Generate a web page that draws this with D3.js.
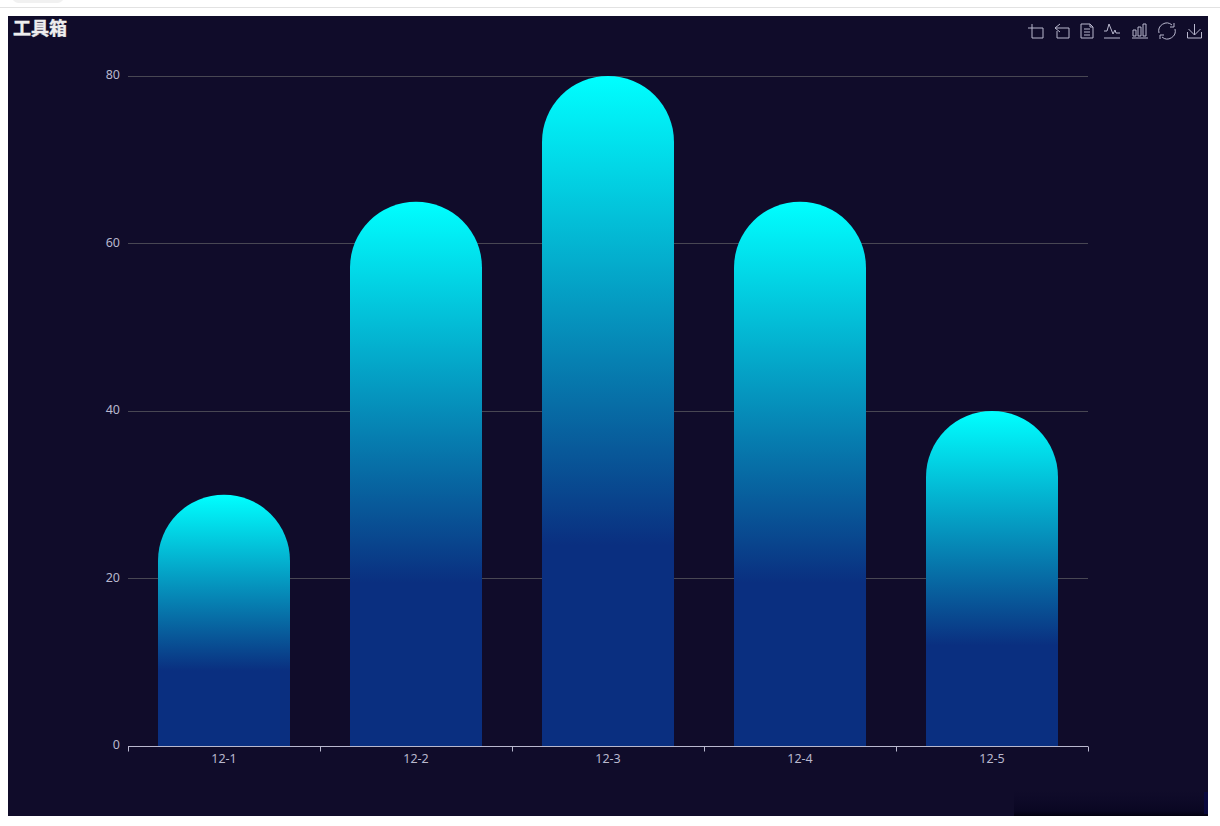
<!DOCTYPE html>
<html>
<head>
<meta charset="utf-8">
<script src="https://cdn.jsdelivr.net/npm/d3@7"></script>
<style>
html, body { margin: 0; padding: 0; background: #fff; overflow: hidden; }
svg { display: block; }
text { font-family: "Noto Sans", "Open Sans", sans-serif; }
</style>
</head>
<body>
<div id="chart"></div>
<script>
var categories = ["12-1", "12-2", "12-3", "12-4", "12-5"];
var values = [30, 65, 80, 65, 40];
var yTicks = [0, 20, 40, 60, 80];
var title = "工具箱";

var svg = d3.select("#chart").append("svg").attr("width", 1220).attr("height", 826);
var defs = svg.append("defs");

// page furniture above the chart
svg.append("rect").attr("x", 12).attr("y", -10).attr("width", 52).attr("height", 13).attr("rx", 6.5).attr("fill", "#f1f1f1");
svg.append("rect").attr("x", 0).attr("y", 7).attr("width", 1220).attr("height", 1).attr("fill", "#e2e2e2");

// chart background
svg.append("rect").attr("x", 8).attr("y", 16).attr("width", 1200).attr("height", 800).attr("fill", "#100c2a");

// dark smudge bottom right
var smudge = defs.append("linearGradient").attr("id", "smudge").attr("x1", 0).attr("y1", 0).attr("x2", 0).attr("y2", 1);
smudge.append("stop").attr("offset", 0).attr("stop-color", "#0a0626").attr("stop-opacity", 0);
smudge.append("stop").attr("offset", 0.8).attr("stop-color", "#07041f").attr("stop-opacity", 0.7);
smudge.append("stop").attr("offset", 1).attr("stop-color", "#020010");
svg.append("rect").attr("x", 1014).attr("y", 790).attr("width", 194).attr("height", 26).attr("fill", "url(#smudge)");
svg.append("rect").attr("x", 1204).attr("y", 792).attr("width", 4).attr("height", 22).attr("fill", "#0a0a48").attr("opacity", 0.7);

var grad = defs.append("linearGradient").attr("id", "barFill").attr("x1", 0).attr("y1", 0).attr("x2", 0).attr("y2", 1);
grad.append("stop").attr("offset", 0).attr("stop-color", "#00ffff");
grad.append("stop").attr("offset", 0.7).attr("stop-color", "#0a2f80");
grad.append("stop").attr("offset", 1).attr("stop-color", "#0a2f80");

var margin = { top: 76, left: 128, right: 132, bottom: 80 };
var x = d3.scaleBand().domain(categories).range([margin.left, 1220 - margin.right]);
var y = d3.scaleLinear().domain([0, 80]).range([826 - margin.bottom, margin.top]);
var barWidth = x.bandwidth() * 0.6875;

// grid lines
svg.append("g").selectAll("line").data(yTicks.filter(function (d) { return d > 0; })).enter().append("line")
    .attr("x1", margin.left).attr("x2", 1220 - margin.right)
    .attr("y1", function (d) { return Math.floor(y(d)) + 0.5; })
    .attr("y2", function (d) { return Math.floor(y(d)) + 0.5; })
    .attr("stroke", "#484753");

// bars, rounded top
svg.append("g").selectAll("path").data(values).enter().append("path")
    .attr("fill", "url(#barFill)")
    .attr("d", function (d, i) {
        var x0 = x(categories[i]) + (x.bandwidth() - barWidth) / 2;
        var r = barWidth / 2;
        var y0 = y(d), yb = y(0);
        return "M" + x0 + "," + yb + "V" + (y0 + r) + "A" + r + "," + r + " 0 0 1 " + (x0 + barWidth) + "," + (y0 + r) + "V" + yb + "Z";
    });

// x axis
var xAxis = svg.append("g").attr("transform", "translate(0," + (y(0) + 0.5) + ")")
    .call(d3.axisBottom(x).tickSize(0).tickPadding(8));
xAxis.select(".domain").remove();
xAxis.append("line").attr("x1", margin.left).attr("x2", 1220 - margin.right).attr("stroke", "#b9b8ce");
xAxis.selectAll("line.tk").data(x.domain().map(function (d) { return x(d); }).concat([1220 - margin.right])).enter().append("line")
    .attr("class", "tk")
    .attr("x1", function (d) { return Math.round(d) + 0.5; })
    .attr("x2", function (d) { return Math.round(d) + 0.5; })
    .attr("y1", 0).attr("y2", 5).attr("stroke", "#b9b8ce");
xAxis.selectAll(".tick text").attr("fill", "#b9b8ce").attr("font-size", 12.5).style("font-family", '"Noto Sans", sans-serif');

// y axis labels
var yAxis = svg.append("g").attr("transform", "translate(" + margin.left + ",0)")
    .call(d3.axisLeft(y).tickValues(yTicks).tickSize(0).tickPadding(8));
yAxis.select(".domain").remove();
yAxis.selectAll(".tick text").attr("fill", "#b9b8ce").attr("font-size", 12.5).attr("dy", "0.2em").style("font-family", '"Noto Sans", sans-serif');

// title
svg.append("text").attr("x", 13).attr("y", 35).text(title)
    .attr("fill", "#eeeeee").attr("font-size", 18).attr("font-weight", 700)
    .attr("stroke", "#eeeeee").attr("stroke-width", 0.4)
    .style("font-family", '"Noto Sans CJK SC", sans-serif');

// toolbox icons
var iconCenters = [1036, 1062, 1087, 1112, 1140, 1167, 1194.5];
var iconPaths = [
    "M-8,-3H7V7H-4V-7",
    "M-2,-7L-7,-3L-2,1M-7,-3H7V7H-5V0",
    "M-6,-7H3L6,-4V7H-6ZM3,-7V-4H6M-3,-2H3M-3,1H3M-3,4H3",
    "M-8,7H8M-8,0H-5L-3,-7L1,3L3,-1L4,2H8",
    "M-8,7H8M-7,5V-1H-4V5ZM-2,5V-4H1V5ZM3,5V-7H6V5Z",
    "M-8,2A8,8 0 0 1 5,-6M7,-8V-4H3M8,-2A8,8 0 0 1 -5,6M-7,8V4H-3",
    "M0,-7V4M-6,-2L0,4L6,-2M-7,1V7H7V1"
];
svg.append("g").selectAll("path").data(iconPaths).enter().append("path")
    .attr("transform", function (d, i) { return "translate(" + iconCenters[i] + ",31)"; })
    .attr("d", function (d) { return d; })
    .attr("fill", "none").attr("stroke", "#b9b8ce").attr("stroke-width", 1);
</script>
</body>
</html>
